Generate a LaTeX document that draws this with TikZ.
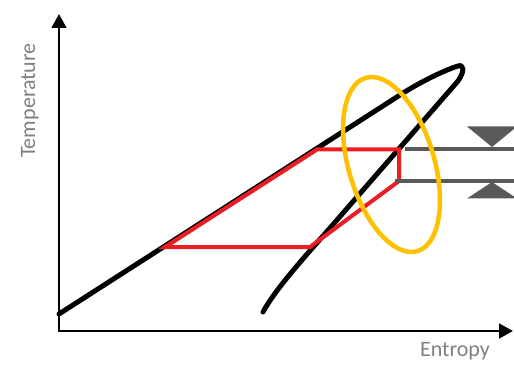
\documentclass[tikz,border=0pt]{standalone}
\usepackage{fontspec}
\setmainfont{Carlito}
\usetikzlibrary{arrows.meta}
\definecolor{cyclered}{HTML}{ED1C24}
\definecolor{ringyellow}{HTML}{FFC000}
\definecolor{levelgray}{HTML}{595959}
\colorlet{labelgray}{black!50}

\begin{document}
\begin{tikzpicture}[x=0.75pt, y=-0.75pt, >={Triangle[length=10.5pt, width=11pt]},
    axisline/.style={line width=2pt},
    axislabel/.style={text=labelgray, font=\fontsize{16.5}{20}\selectfont, inner sep=0pt},
    dome/.style={line width=3.75pt, line cap=round, line join=round},
    cycleline/.style={draw=cyclered, line width=3pt, line join=miter},
    ring/.style={draw=ringyellow, line width=3.4pt},
    level/.style={draw=levelgray, line width=3.4pt},
    marker/.style={fill=levelgray, draw=none}]
    \useasboundingbox (0,0) rectangle (514,367);

    % Axes
    \draw[axisline, <->] (59,14) -- (59,331) -- (513,331);
    \node[axislabel, rotate=90, anchor=base] (templabel) at (35,100.5) {Temperature};
    \node[axislabel, anchor=base] (entlabel) at (455,356.5) {Entropy};

    % Saturation dome
    \draw[dome] (59,314) -- (400,95) .. controls (420,82) and (445,70) .. (458,66)
      .. controls (464,64) and (465,71) .. (458,81) -- (330,228)
      .. controls (300,262) and (275,290) .. (263,312);

    % Cycle
    \coordinate (liqstart) at (165,247);
    \coordinate (vapstart) at (317,149.5);
    \coordinate (hotend) at (399,149.5);
    \coordinate (hotdrop) at (399,181);
    \coordinate (coldend) at (310,247);
    \draw[cycleline] (liqstart) -- (vapstart) -- (hotend) -- (hotdrop) -- (coldend) -- cycle;

    % Heat source levels
    \draw[level] (405,149) -- (514,149);
    \draw[level] (395,181) -- (514,181);
    \begin{scope}
      \clip (0,0) rectangle (514,367);
      \fill[marker] (467,126.5) -- (517,126.5) -- (492,147) -- cycle;
      \fill[marker] (467,198.5) -- (517,198.5) -- (492,182) -- cycle;
    \end{scope}

    % Pinch region
    \draw[ring, rotate around={16.6:(391.5,164.5)}] (391.5,164.5) ellipse [x radius=42.8, y radius=90.4];
\end{tikzpicture}
\end{document}
